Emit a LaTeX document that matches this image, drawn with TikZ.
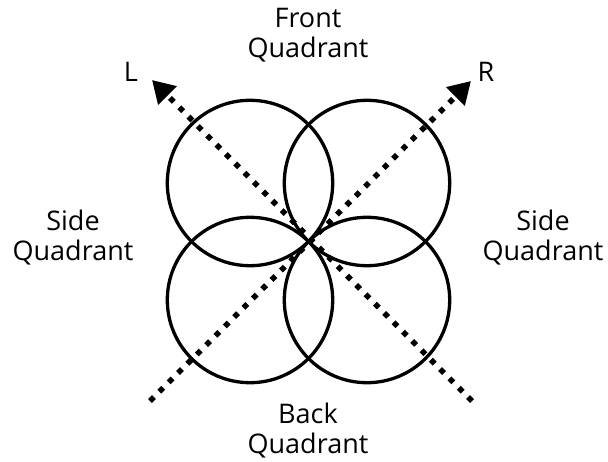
\documentclass[tikz,border=0pt]{standalone}
\usepackage{fontspec}
\setmainfont{Open Sans}
\usetikzlibrary{arrows.meta}
\tikzset{
  ring/.style={line width=3.3pt},
  axis/.style={line width=5.5pt, dash pattern=on 5.5pt off 7.7pt, line cap=butt,
    -{Triangle[length=22pt,width=25pt]}},
  lbl/.style={font=\fontsize{27}{29.5}\selectfont, align=center, anchor=base, inner sep=0pt},
}
\begin{document}
\begin{tikzpicture}[x=1pt,y=-1pt]
\useasboundingbox (0,0) rectangle (608,461);
\coordinate (o) at (308.5,241.5);
\coordinate (tl) at (250,183);
\coordinate (tr) at (367,183);
\coordinate (bl) at (250,300);
\coordinate (br) at (367,300);
\foreach \c in {tl,tr,bl,br} \draw[ring] (\c) circle (82.7);
\coordinate (Ltail) at (472,401);
\coordinate (Ltip) at (152,80);
\coordinate (Rtail) at (150,401);
\coordinate (Rtip) at (471,81);
\draw[axis] (Ltail) -- (Ltip);
\draw[axis] (Rtail) -- (Rtip);
\node[lbl] (front) at (308,57) {Front\\Quadrant};
\node[lbl] (back) at (308,453) {Back\\Quadrant};
\node[lbl] (sideL) at (73,260) {Side\\Quadrant};
\node[lbl] (sideR) at (543,260) {Side\\Quadrant};
\node[lbl] (L) at (131,81) {L};
\node[lbl] (R) at (486,81) {R};
\end{tikzpicture}
\end{document}
